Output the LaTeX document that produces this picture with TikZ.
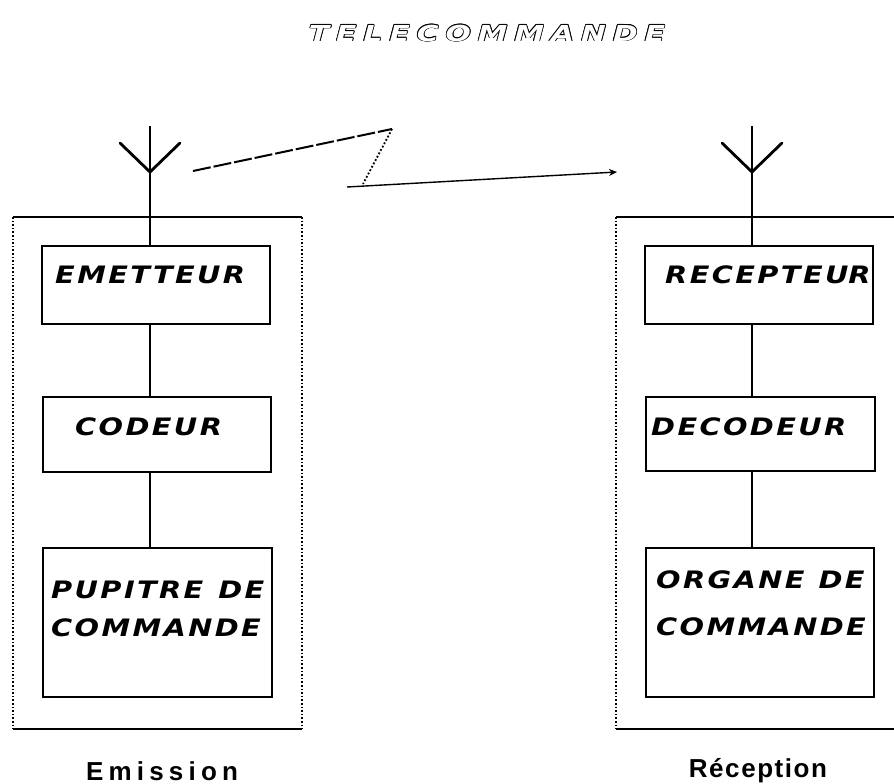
\documentclass[tikz,border=0pt]{standalone}
\usepackage{fontspec}
\setmainfont{Liberation Sans}
\newfontfamily\boxfont[LetterSpace=10,FakeStretch=1.2]{DejaVu Sans}
\newfontfamily\titlefont[LetterSpace=32,FakeStretch=1.35]{DejaVu Sans}
\newfontfamily\capfont{Liberation Sans}
\usepackage{tikz}
\usetikzlibrary{calc,arrows.meta,positioning}
\tikzset{
  blk/.style={draw,line width=1.3pt,inner sep=0pt},
  txt/.style={font=\boxfont\bfseries\itshape\fontsize{24}{28}\selectfont,inner sep=0pt,anchor=west},
  ttl/.style={font=\titlefont\bfseries\itshape\fontsize{22}{26}\selectfont,inner sep=0pt},
  ln/.style={line width=1.3pt},
  arm/.style={line width=2.8pt,line cap=round},
  side/.style={line width=1.6pt,dotted},
  captxt/.style={font=\capfont\bfseries\fontsize{26}{28}\selectfont,inner sep=0pt}
}

\begin{document}
\begin{tikzpicture}[x=1pt,y=-1pt]
\useasboundingbox (0,0) rectangle (894,784);
% title (outlined letters)
\coordinate (tc) at (487,33);
\foreach \a in {0,45,...,315}
  \node[ttl] (t\a) at ($(tc)+(\a:0.9)$) {TELECOMMANDE};
\node[ttl,white] (title) at (tc) {TELECOMMANDE};

% emission side
\coordinate (eTL) at (13,217); \coordinate (eTR) at (302,217);
\coordinate (eBL) at (13,729); \coordinate (eBR) at (302,729);
\draw[ln] (eTL) -- (eTR); \draw[ln] (eBL) -- (eBR);
\draw[side] (eTL) -- (eBL); \draw[side] (eTR) -- (eBR);
\node[blk,minimum width=228,minimum height=78] (emet) at (156,285) {};
\node[blk,minimum width=228,minimum height=75] (cod) at (157,434.5) {};
\node[blk,minimum width=229,minimum height=149] (pup) at (157.5,622.5) {};
\node[txt] at (55,275) {EMETTEUR};
\node[txt] at (75,427) {CODEUR};
\node[txt] at (51,590) {PUPITRE\hspace{15pt}DE};
\node[txt] at (51,628) {COMMANDE};
\node[captxt] (emis) at (162,771) {\addfontfeature{LetterSpace=20}Emission};

% antenne emission
\coordinate (eAnt) at (150,126); \coordinate (eV) at (150,172);
\draw[ln] (eAnt) -- (eV |- emet.north);
\draw[arm] (120,143) -- (eV) -- (180,143);
\draw[ln] (emet.south -| eV) -- (cod.north -| eV);
\draw[ln] (cod.south -| eV) -- (pup.north -| eV);

% reception side
\coordinate (rTL) at (616,217); \coordinate (rTR) at (894,217);
\coordinate (rBL) at (616,729); \coordinate (rBR) at (894,729);
\draw[ln] (rTL) -- (rTR); \draw[ln] (rBL) -- (rBR);
\draw[side] (rTL) -- (rBL);
\node[blk,minimum width=228,minimum height=78] (recep) at (759,285) {};
\node[blk,minimum width=229,minimum height=74] (decod) at (760.5,434) {};
\node[blk,minimum width=228,minimum height=149] (org) at (760,622.5) {};
\node[txt] at (665,275) {RECEPTEU\rlap{R}};
\node[txt] at (651,427) {DECODEUR};
\node[txt] at (656,580) {ORGANE\hspace{14pt}DE};
\node[txt] at (656,627) {COMMANDE};
\node[captxt] (recp) at (758,771) {\addfontfeature{LetterSpace=6}Réception};

% antenne reception
\coordinate (rAnt) at (752,126); \coordinate (rV) at (752,172);
\draw[ln] (rAnt) -- (rV |- recep.north);
\draw[arm] (722,143) -- (rV) -- (782,143);
\draw[ln] (recep.south -| rV) -- (decod.north -| rV);
\draw[ln] (decod.south -| rV) -- (org.north -| rV);

% liaison radio
\coordinate (w1) at (193,171); \coordinate (w2) at (392,129);
\coordinate (w3) at (363,184); \coordinate (w4) at (347,187);
\coordinate (w5) at (617,172);
\draw[line width=2pt,dash pattern=on 18pt off 3pt] (w1) -- (w2);
\draw[line width=1.8pt,dotted] (w2) -- (w3);
\draw[line width=1.4pt,-{Stealth[length=8pt,width=7pt]}] (w4) -- (w5);
\end{tikzpicture}
\end{document}
